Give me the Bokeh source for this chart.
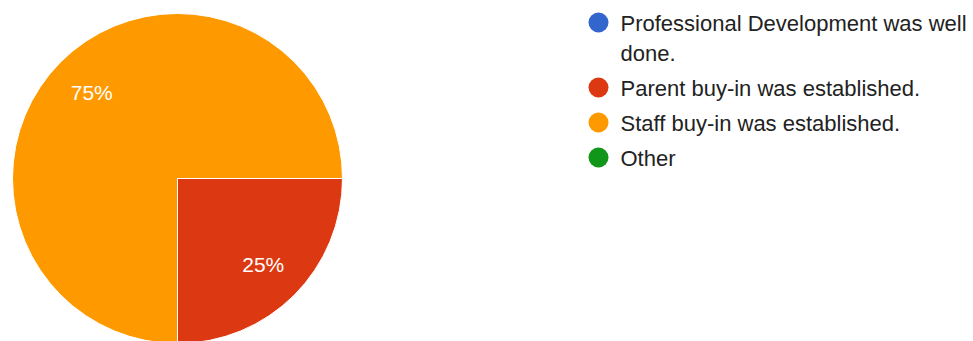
from math import pi
import numpy as np
from bokeh.plotting import figure
from bokeh.models import Range1d, ColumnDataSource
from bokeh.core.properties import value
from bokeh.embed import file_html
from bokeh.resources import INLINE

# ---- data ----
categories = [
    "Professional Development was well\ndone.",
    "Parent buy-in was established.",
    "Staff buy-in was established.",
    "Other",
]
counts = [0, 1, 3, 0]
colors = ["#3366cc", "#dc3912", "#ff9900", "#109618"]

W, H = 973, 341
p = figure(width=W, height=H, output_backend="svg", toolbar_location=None,
           x_range=Range1d(0, W), y_range=Range1d(0, H),
           min_border=0, outline_line_color=None)
p.axis.visible = False
p.grid.visible = False
p.background_fill_color = "white"
p.border_fill_color = "white"

# ---- pie ----
cx, cy, R = 177, H - 178, 165
vals = np.array(counts, dtype=float)
frac = vals / vals.sum()
cum = np.concatenate([[0], np.cumsum(frac)])
start = -2 * pi * cum[:-1]
end = -2 * pi * cum[1:]
mask = frac > 0
src = ColumnDataSource(dict(
    start=start[mask], end=end[mask], color=[c for c, m in zip(colors, mask) if m],
))
p.wedge(x=cx, y=cy, radius=R, start_angle="start", end_angle="end",
        direction="clock", fill_color="color", line_color="#ffffff",
        line_width=1, source=src)

# percentage labels
mid = (start + end) / 2
lr = 0.735 * R
lab = ColumnDataSource(dict(
    x=(cx + lr * np.cos(mid))[mask],
    y=(cy + lr * np.sin(mid))[mask],
    t=[f"{round(f * 100)}%" for f, m in zip(frac, mask) if m],
))
p.text(x="x", y="y", text="t", source=lab, text_color="white",
       text_font=value("Liberation Sans"), text_font_size="21px",
       text_align="center", text_baseline="middle")

# ---- legend ----
lines = [c.count("\n") for c in categories]
ys = []
yy = 22
for i, n in enumerate(lines):
    ys.append(yy)
    yy += 35 + 30 * n
leg = ColumnDataSource(dict(
    x=[598] * len(categories),
    y=[H - v for v in ys],
    ty=[H - v + 12 for v in ys],
    tx=[620] * len(categories),
    t=categories,
    color=colors,
))
p.scatter(x="x", y="y", size=20, marker="circle", fill_color="color",
          line_color=None, source=leg)
p.text(x="tx", y="ty", text="t", source=leg, text_color="#222222",
       text_font=value("Liberation Sans"), text_font_size="22px",
       text_align="left", text_baseline="top", text_line_height=1.22)

open("out.html", "w").write(file_html(p, INLINE))
